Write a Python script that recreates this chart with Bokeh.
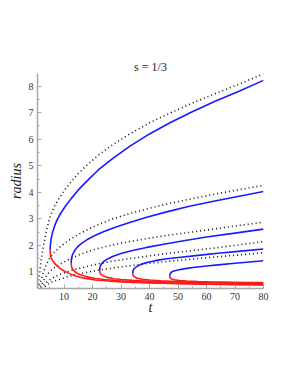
from bokeh.plotting import figure
from bokeh.models import Range1d, FixedTicker, ColumnDataSource
from bokeh.embed import file_html
from bokeh.resources import INLINE

TITLE = "s = 1/3"
X_LABEL = "t"
Y_LABEL = "radius"
X_TICKS = [10, 20, 30, 40, 50, 60, 70, 80]
X_MINOR = [5, 15, 25, 35, 45, 55, 65, 75]
Y_TICKS = [1, 2, 3, 4, 5, 6, 7, 8]
Y_MINOR = [0.5, 1.5, 2.5, 3.5, 4.5, 5.5, 6.5, 7.5]

# dotted envelope curves
T_DOT = [0.75, 1.0, 1.4, 2.0, 2.8, 3.8, 5.0, 6.5, 8.5, 10.5, 12.5, 15, 18, 22, 27, 33, 40, 47, 55, 63, 71, 80]
R_DOT1 = [0.38, 0.62, 0.98, 1.45, 2.0, 2.55, 3.05, 3.45, 3.82, 4.13, 4.4, 4.71, 5.02, 5.4, 5.79, 6.2, 6.62, 6.98, 7.36, 7.72, 8.06, 8.47]
R_DOT2 = [0.19, 0.31, 0.49, 0.72, 1.0, 1.28, 1.53, 1.73, 1.93, 2.1, 2.25, 2.41, 2.58, 2.78, 2.99, 3.2, 3.4, 3.58, 3.76, 3.93, 4.09, 4.26]
R_DOT3 = [0.13, 0.21, 0.33, 0.48, 0.67, 0.85, 1.02, 1.15, 1.28, 1.4, 1.51, 1.63, 1.75, 1.88, 2.01, 2.14, 2.27, 2.39, 2.5, 2.62, 2.74, 2.87]
R_DOT4 = [0.1, 0.16, 0.25, 0.35, 0.48, 0.6, 0.7, 0.8, 0.9, 0.98, 1.05, 1.12, 1.2, 1.3, 1.4, 1.5, 1.6, 1.7, 1.8, 1.9, 2.01, 2.14]
R_DOT5 = [0.08, 0.12, 0.2, 0.29, 0.39, 0.49, 0.58, 0.65, 0.72, 0.79, 0.85, 0.91, 0.98, 1.06, 1.14, 1.23, 1.32, 1.4, 1.48, 1.56, 1.63, 1.72]

# upper (blue) and lower (red) branches
T_BLUE1 = [5.1, 5.2, 5.5, 6.0, 6.7, 7.5, 8.5, 10.5, 12.5, 15, 18, 22, 27, 33, 40, 47, 55, 63, 71, 80]
R_BLUE1 = [1.83, 2.02, 2.27, 2.5, 2.74, 2.95, 3.15, 3.48, 3.76, 4.09, 4.42, 4.84, 5.27, 5.73, 6.2, 6.61, 7.04, 7.43, 7.79, 8.22]
T_RED1 = [5.1, 5.2, 5.5, 6.1, 7.0, 8.2, 9.7, 11.5, 14, 17, 21, 26, 32, 40, 50, 60, 70, 80]
R_RED1 = [1.83, 1.66, 1.52, 1.4, 1.28, 1.16, 1.05, 0.95, 0.84, 0.76, 0.69, 0.65, 0.61, 0.575, 0.55, 0.53, 0.515, 0.5]

T_BLUE2 = [12.5, 12.6, 13.0, 13.8, 15, 16.5, 18.5, 21, 24, 28, 33, 39, 46, 54, 62, 71, 80]
R_BLUE2 = [1.33, 1.5, 1.66, 1.82, 1.97, 2.1, 2.24, 2.38, 2.52, 2.68, 2.86, 3.06, 3.26, 3.47, 3.65, 3.84, 4.03]
T_RED2 = [12.5, 12.6, 13.0, 13.8, 15, 16.5, 18.5, 21, 24, 28, 33, 40, 50, 60, 70, 80]
R_RED2 = [1.33, 1.2, 1.1, 1.0, 0.92, 0.86, 0.8, 0.75, 0.71, 0.67, 0.635, 0.6, 0.57, 0.55, 0.535, 0.52]

T_BLUE3 = [22.5, 22.6, 23, 23.8, 25, 27, 30, 34, 39, 45, 52, 60, 70, 80]
R_BLUE3 = [1.06, 1.18, 1.28, 1.38, 1.47, 1.58, 1.69, 1.8, 1.92, 2.04, 2.17, 2.31, 2.46, 2.61]
T_RED3 = [22.5, 22.6, 23, 24, 25.5, 27.5, 30, 34, 40, 48, 56, 65, 80]
R_RED3 = [1.06, 0.96, 0.9, 0.83, 0.78, 0.74, 0.71, 0.675, 0.645, 0.615, 0.595, 0.575, 0.55]

T_BLUE4 = [34.1, 34.2, 34.6, 35.5, 37, 39, 42, 46, 51, 57, 64, 72, 80]
R_BLUE4 = [0.95, 1.04, 1.12, 1.2, 1.28, 1.35, 1.42, 1.49, 1.55, 1.62, 1.7, 1.78, 1.86]
T_RED4 = [34.1, 34.2, 34.7, 35.7, 37.5, 40, 44, 50, 57, 65, 80]
R_RED4 = [0.95, 0.87, 0.81, 0.76, 0.72, 0.69, 0.66, 0.635, 0.615, 0.6, 0.575]

T_BLUE5 = [47.1, 47.2, 47.6, 48.5, 50, 52.5, 56, 60, 65, 70, 75, 80]
R_BLUE5 = [0.85, 0.92, 0.98, 1.03, 1.07, 1.12, 1.17, 1.22, 1.27, 1.32, 1.37, 1.415]
T_RED5 = [47.1, 47.2, 47.7, 48.7, 50.5, 53, 57, 62, 68, 80]
R_RED5 = [0.85, 0.78, 0.73, 0.7, 0.67, 0.65, 0.63, 0.615, 0.605, 0.59]

SERIF = "Liberation Serif"

p = figure(width=281, height=366, output_backend="svg", toolbar_location=None,
           x_range=Range1d(0.67, 80), y_range=Range1d(0.37, 8.48),
           min_border_left=37, min_border_right=18, min_border_top=73, min_border_bottom=78,
           title=TITLE)
p.outline_line_color = None
p.grid.visible = False
p.background_fill_color = "white"
p.border_fill_color = "white"

p.title.align = "center"
p.title.text_font = SERIF
p.title.text_font_size = "12px"
p.title.text_font_style = "normal"
p.title.text_color = "#222222"
p.title.standoff = 0

for ax in (p.xaxis[0], p.yaxis[0]):
    ax.axis_line_color = "#a6a6a6"
    ax.axis_line_width = 1.5
    ax.major_tick_line_color = "#a6a6a6"
    ax.minor_tick_line_color = "#a6a6a6"
    ax.major_tick_in = 4
    ax.major_tick_out = 0
    ax.minor_tick_in = 2
    ax.minor_tick_out = 0
    ax.major_label_text_font = SERIF
    ax.major_label_text_font_size = "10px"
    ax.major_label_text_color = "#333333"
    ax.axis_label_text_font = SERIF
    ax.axis_label_text_font_size = "14px"
    ax.axis_label_text_font_style = "italic"
    ax.axis_label_text_color = "#222222"
    ax.major_label_standoff = 4
    ax.axis_label_standoff = 2

p.xaxis[0].axis_label_standoff = -3

p.xaxis[0].ticker = FixedTicker(ticks=X_TICKS, minor_ticks=X_MINOR)
p.yaxis[0].ticker = FixedTicker(ticks=Y_TICKS, minor_ticks=Y_MINOR)
p.xaxis[0].axis_label = X_LABEL
p.yaxis[0].axis_label = Y_LABEL

for rd in (R_DOT1, R_DOT2, R_DOT3, R_DOT4, R_DOT5):
    src = ColumnDataSource(dict(t=T_DOT, r=rd))
    p.line("t", "r", source=src, line_color="#111111", line_width=1.6, line_dash="1 3")

for tb, rb in ((T_BLUE1, R_BLUE1), (T_BLUE2, R_BLUE2), (T_BLUE3, R_BLUE3), (T_BLUE4, R_BLUE4), (T_BLUE5, R_BLUE5)):
    p.line("t", "r", source=ColumnDataSource(dict(t=tb, r=rb)), line_color="#1a1aff", line_width=1.6)

for tr, rr in ((T_RED1, R_RED1), (T_RED2, R_RED2), (T_RED3, R_RED3), (T_RED4, R_RED4), (T_RED5, R_RED5)):
    p.line("t", "r", source=ColumnDataSource(dict(t=tr, r=rr)), line_color="#ff1a1a", line_width=1.6)

open("out.html", "w").write(file_html(p, INLINE))
